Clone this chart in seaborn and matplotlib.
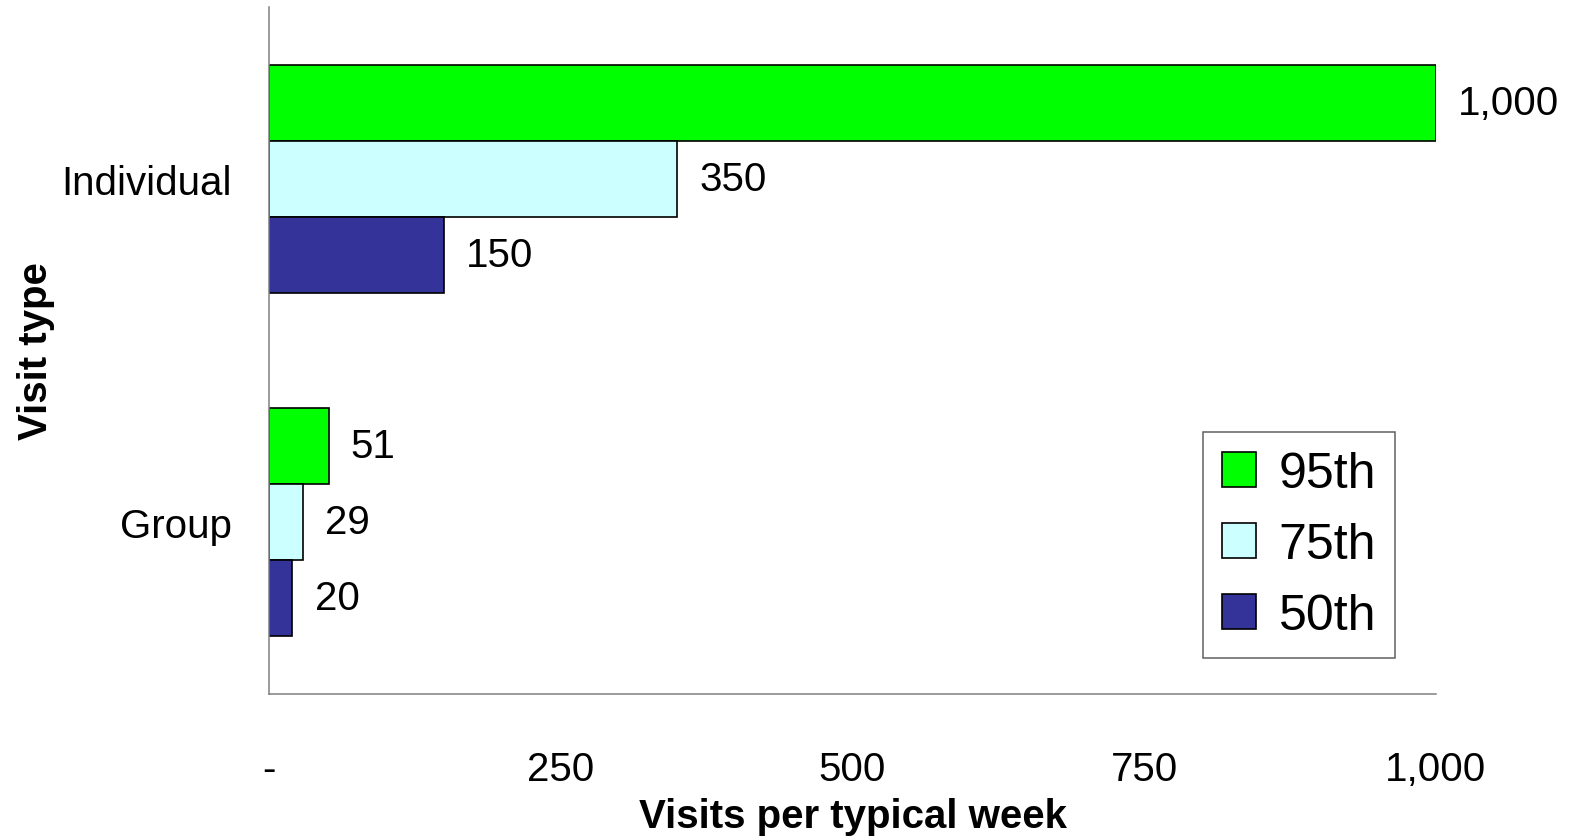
import pandas as pd
import matplotlib.pyplot as plt
from matplotlib.ticker import FuncFormatter
import seaborn as sns

# данные
visit_types = ["Individual", "Group"]
percentiles = ["95th", "75th", "50th"]
visits_95 = [1000, 51]
visits_75 = [350, 29]
visits_50 = [150, 20]
bar_colors = ["#00FF00", "#CCFFFF", "#333399"]
x_ticks = [0, 250, 500, 750, 1000]

df = pd.DataFrame(
    {
        "Visit type": visit_types * 3,
        "Percentile": ["95th"] * 2 + ["75th"] * 2 + ["50th"] * 2,
        "Visits": visits_95 + visits_75 + visits_50,
    }
)

sns.set_style("white")
plt.rcParams["font.family"] = ["Liberation Sans", "DejaVu Sans"]
plt.rcParams["text.color"] = "black"
plt.rcParams["axes.labelcolor"] = "black"
plt.rcParams["xtick.color"] = "black"
plt.rcParams["ytick.color"] = "black"

fig = plt.figure(figsize=(15.73, 8.37), dpi=100)
ax = fig.add_axes([269 / 1573, 1 - 695 / 837, (1436 - 269) / 1573, (695 - 8) / 837])

sns.barplot(
    data=df,
    x="Visits",
    y="Visit type",
    hue="Percentile",
    hue_order=percentiles,
    order=visit_types,
    palette=bar_colors,
    orient="h",
    width=0.665,
    edgecolor="black",
    linewidth=1.2,
    saturation=1,
    errorbar=None,
    ax=ax,
)

# подписи значений
for cont in ax.containers:
    ax.bar_label(cont, fmt="{:,.0f}", padding=16, fontsize=29, color="black")

ax.set_xlim(0, 1000)
ax.set_ylim(1.5, -0.5)
ax.set_xticks(x_ticks)
ax.xaxis.set_major_formatter(FuncFormatter(lambda v, p: "-" if v == 0 else f"{v:,.0f}"))
ax.tick_params(axis="x", length=0, pad=40, labelsize=29)
ax.tick_params(axis="y", length=0, pad=27, labelsize=29)

for s in ["top", "right"]:
    ax.spines[s].set_visible(False)
for s in ["left", "bottom"]:
    ax.spines[s].set_color("#808080")
    ax.spines[s].set_linewidth(1.1)

ax.set_xlabel("Visits per typical week", fontsize=29, fontweight="bold")
ax.set_ylabel("Visit type", fontsize=29, fontweight="bold")
ax.xaxis.set_label_coords(0.5, -0.15)
ax.yaxis.set_label_coords(-0.183, 0.5)

# легенда
ax.legend(
    loc="upper left",
    bbox_to_anchor=(1203 / 1573, 1 - 433 / 837),
    bbox_transform=fig.transFigure,
    borderaxespad=0,
    fontsize=36,
    frameon=True,
    fancybox=False,
    edgecolor="#606060",
    framealpha=1,
    handlelength=0.68,
    handleheight=0.68,
    handletextpad=0.45,
    labelspacing=0.5,
    borderpad=0.38,
)
ax.get_legend().get_frame().set_linewidth(1.1)

fig.savefig("out.png", dpi=100)
